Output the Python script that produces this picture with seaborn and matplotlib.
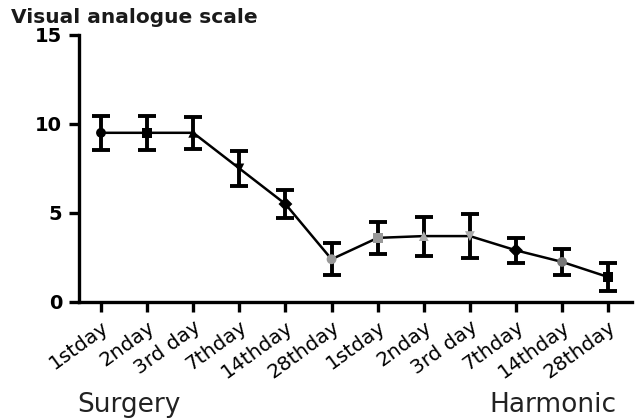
import matplotlib
matplotlib.use("Agg")
import matplotlib.pyplot as plt
import seaborn as sns
import numpy as np
import pandas as pd

days = ["1stday", "2nday", "3rd day", "7thday", "14thday", "28thday",
        "1stday", "2nday", "3rd day", "7thday", "14thday", "28thday"]
vas_mean = [9.5, 9.5, 9.5, 7.5, 5.5, 2.4, 3.6, 3.7, 3.7, 2.9, 2.25, 1.4]
vas_err = [0.95, 0.95, 0.9, 1.0, 0.8, 0.9, 0.9, 1.1, 1.25, 0.7, 0.75, 0.8]
groups = ["Surgery", "Harmonic"]
y_ticks = [0, 5, 10, 15]

sns.set_theme(style="ticks")
plt.rcParams['font.family'] = ['DejaVu Sans']

df = pd.DataFrame({"pos": np.arange(len(days)), "vas": vas_mean, "err": vas_err})

fig = plt.figure(figsize=(6.36, 4.2), dpi=100)
ax = fig.add_axes([0.124, 0.281, 0.87, 0.636])

sns.lineplot(data=df, x="pos", y="vas", ax=ax, color="black", lw=1.8, zorder=2)
ax.errorbar(df["pos"], df["vas"], yerr=df["err"], fmt="none", ecolor="black",
            elinewidth=2.8, capsize=6.5, capthick=2.8, zorder=3)
mk = ["o", "s", "^", "v", "D", "o", "s", "^", "v", "D", "o", "s"]
cols = ["black", "black", "black", "black", "black", "#999999",
        "#999999", "#aaaaaa", "#aaaaaa", "black", "#777777", "black"]
for i in range(len(days)):
    ax.scatter(df["pos"][i], df["vas"][i], marker=mk[i], s=50, color=cols[i],
               zorder=4, edgecolors="none")

ax.set_xlim(-0.48, 11.52)
ax.set_ylim(0, 15)
ax.set_yticks(y_ticks)
ax.set_yticklabels([str(t) for t in y_ticks], fontsize=14, fontweight="bold")
ax.set_xticks(df["pos"])
ax.set_xticklabels(days, rotation=36, ha="right", rotation_mode="anchor",
                   fontsize=14.5, color="#111111")
ax.set_xlabel("")
ax.set_ylabel("")
for s in ["top", "right"]:
    ax.spines[s].set_visible(False)
for s in ["left", "bottom"]:
    ax.spines[s].set_linewidth(2.4)
    ax.spines[s].set_color("black")
ax.tick_params(axis="both", width=2.4, length=7, colors="black", pad=4)
ax.tick_params(axis="y", pad=5)

fig.text(0.017, 0.945, "Visual analogue scale", fontsize=14.5, fontweight="bold", color="#1a1a1a")
fig.text(0.121, 0.02, groups[0], fontsize=19, color="#222222")
fig.text(0.769, 0.02, groups[1], fontsize=19, color="#222222")

fig.savefig("out.png", dpi=100)
